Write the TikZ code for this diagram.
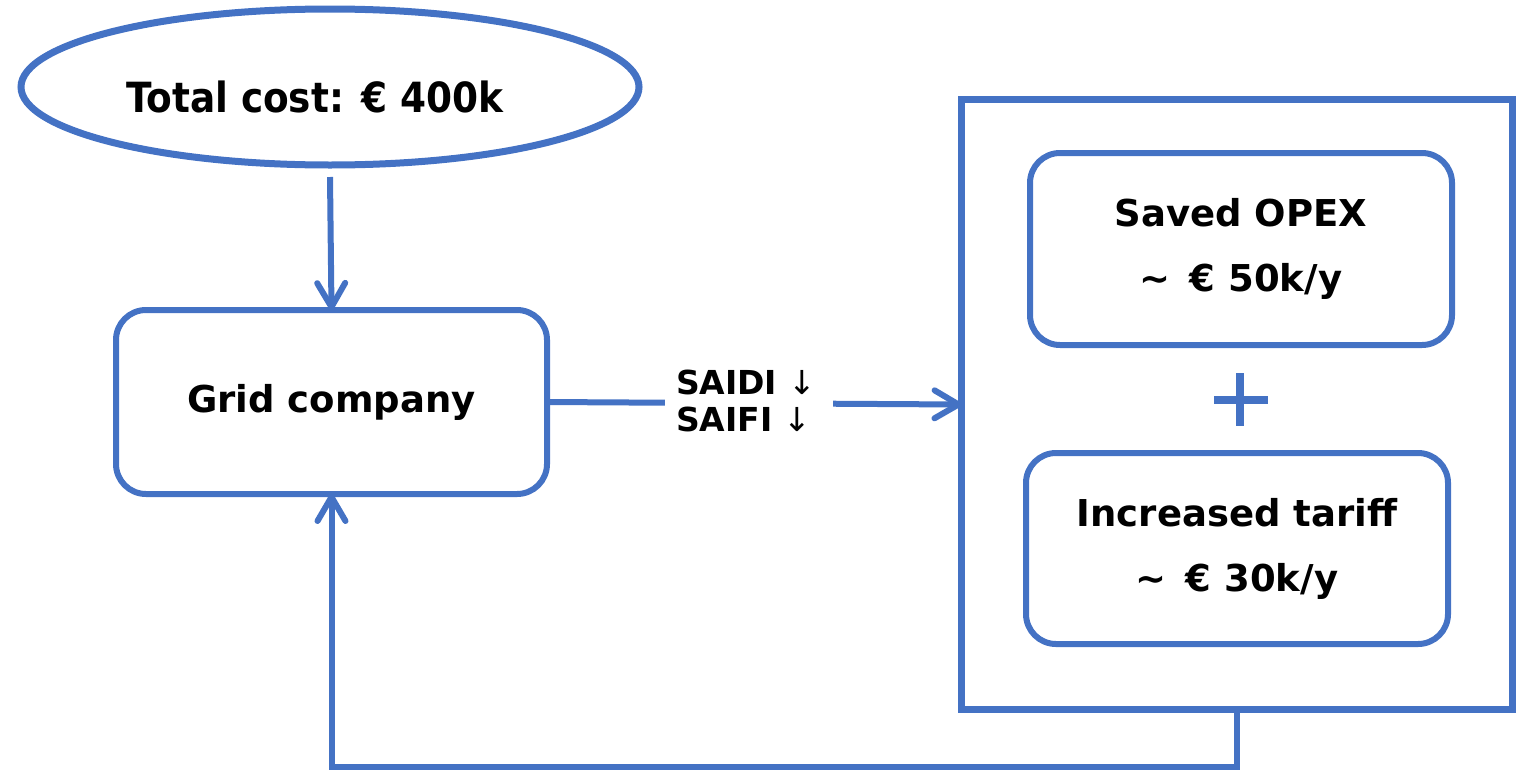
\documentclass[tikz,border=0pt]{standalone}
\usepackage{fontspec}
\setmainfont{DejaVu Sans}
\newfontfamily\condfont{DejaVu Sans Condensed}
\usetikzlibrary{shapes.geometric,arrows.meta}
\definecolor{boxblue}{HTML}{4472C4}
\begin{document}
\begin{tikzpicture}[x=0.5pt,y=-0.5pt,
  every node/.style={inner sep=0pt, outer sep=0pt},
  txt/.style={font=\fontsize{18.5}{32.5}\selectfont\bfseries, align=center},
  roundbox/.style={draw=boxblue, line width=3pt, rounded corners=15pt, txt},
  link/.style={draw=boxblue, line width=3pt},
  tip/.style={-{Straight Barb[length=12pt,width=14pt,round]}}]
\useasboundingbox (0,0) rectangle (1524,771);

% cost ellipse and grid company
\node[ellipse, draw=boxblue, line width=3.5pt, minimum width=309pt, minimum height=78pt] (cost) at (330,87) {};
\node[font=\condfont\fontsize{20.8}{24}\selectfont\bfseries] (costtxt) at (315,97) {Total cost: € 400k};
\node[roundbox, minimum width=215.5pt, minimum height=92pt] (grid) at (331.5,402) {Grid company};

% benefit container
\node[draw=boxblue, line width=3.5pt, minimum width=275.5pt, minimum height=305pt] (benefit) at (1237,404.5) {};
\node[roundbox, minimum width=211pt, minimum height=96pt] (opex) at (1241,249) {Saved OPEX\\\textasciitilde{}\, € 50k/y};
\node[roundbox, minimum width=211pt, minimum height=95.5pt] (tariff) at (1237,548.5) {Increased tariff\\\textasciitilde{}\, € 30k/y};

% plus sign
\draw[boxblue, line width=4pt] (1214,400) -- (1268,400) (1240,373) -- (1240,426);

% connectors
\draw[link, tip] (330,177) -- (grid.north);
\draw[link, tip] (grid.east) -- (benefit.west);
\node[fill=white, minimum width=84pt, minimum height=40pt, text width=73pt, align=left,
      font=\fontsize{16.5}{18.5}\selectfont\bfseries] (rel) at (749,401)
  {SAIDI {\mdseries ↓}\\SAIFI {\mdseries ↓}};
\coordinate (loop) at (1237,767);
\draw[link, tip] (benefit.south) -- (loop) -| (grid.south);
\end{tikzpicture}
\end{document}
